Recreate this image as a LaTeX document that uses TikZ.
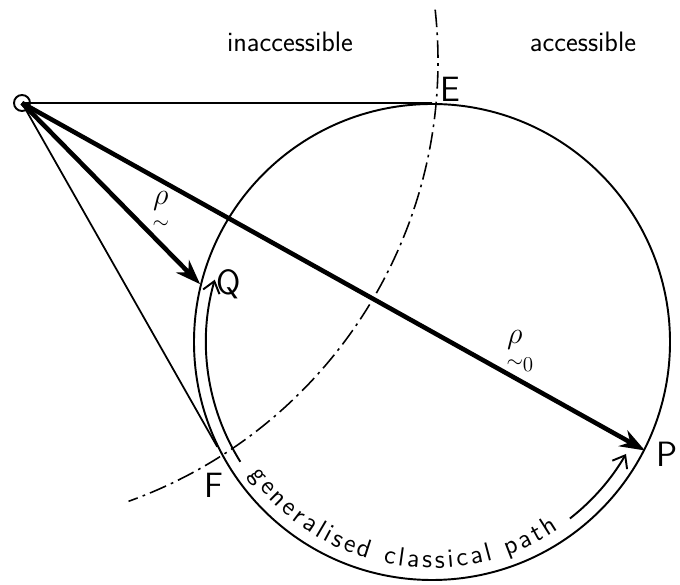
\documentclass[tikz,border=0pt]{standalone}
\usepackage{amsmath}
\usetikzlibrary{arrows.meta,positioning,calc,decorations.text}

\begin{document}
\begin{tikzpicture}[
  thinline/.style={line width=1pt},
  vec/.style={line width=2.6pt,-{Stealth[length=5mm,width=3.6mm]}},
  patharrow/.style={line width=1.1pt,-{Straight Barb[length=2.2mm,width=3.4mm]}},
  divide/.style={line width=0.9pt,dash pattern=on 10pt off 3pt on 1.5pt off 3pt},
  lbl/.style={font=\sffamily\fontsize{20}{24}\selectfont},
  region/.style={font=\sffamily\fontsize{16}{19}\selectfont}
]
  \useasboundingbox (0,0) rectangle (13.6,11.7);

  % source and sphere
  \node[draw,circle,line width=1.1pt,minimum size=3.2mm,inner sep=0pt] (src) at (0.44,9.64) {};
  \node[draw,circle,line width=1.1pt,minimum size=9.52cm,inner sep=0pt] (sph) at (8.64,4.86) {};

  \coordinate (E) at (sph.north);
  \coordinate (F) at (sph.206.5);
  \coordinate (Q) at (sph.166);
  \coordinate (P) at (sph.-27);

  \draw[thinline] (src.center) -- (E);
  \draw[thinline] (src.center) -- (F);
  \draw[vec] (src.center) -- node[pos=0.72,anchor=south west,inner sep=0pt,font=\LARGE] (rho) {$\underset{\sim}{\rho}$} (Q);
  \draw[vec] (src.center) -- node[pos=0.8,anchor=south,inner sep=4pt,font=\LARGE] (rhoo) {$\underset{\sim}{\rho}_{0}$} (P);

  % boundary between the regions
  \draw[divide] (-0.6,10.48) ++(6.3:9.36) arc[start angle=6.3, end angle=-70.2, radius=9.36];
  \node[region] (inacc) at (5.8,10.86) {inaccessible};
  \node[region] (acc) at (11.66,10.86) {accessible};

  \node[lbl,above right=-1mm and 0.5mm of E] (Elbl) {E};
  \node[lbl,below left=4mm and -2.5mm of F] (Flbl) {F};
  \node[lbl,right=2mm of Q] (Qlbl) {Q};
  \node[lbl,below right=-3mm and 1mm of P] (Plbl) {P};

  % generalised classical path
  \coordinate (g1) at ($(sph.center)+(212:4.52)$);
  \coordinate (g2) at ($(sph.center)+(308:4.48)$);
  \draw[patharrow] (g1) arc[start angle=212, end angle=164, radius=4.52cm];
  \draw[patharrow] (g2) arc[start angle=308, end angle=330, radius=4.48cm];
  \path[decorate,decoration={text along path,text align=fit to path,
      text={|\sffamily\fontsize{15}{18}\selectfont|generalised classical path}}]
    ($(sph.center)+(216:4.52)$) arc[start angle=216, end angle=304, radius=4.52cm];
\end{tikzpicture}
\end{document}
